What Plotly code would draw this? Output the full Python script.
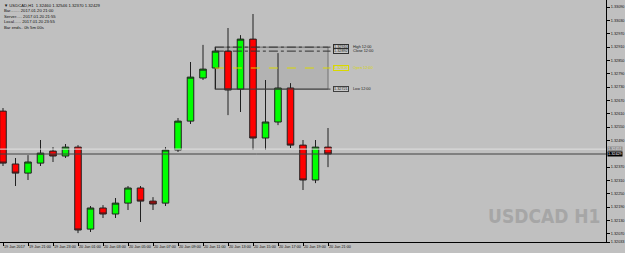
import pandas as pd
import plotly.graph_objects as go

symbol = "USDCAD"
timeframe = "H1"
bar_times = pd.date_range("2017-01-19 19:00", periods=27, freq="h")

opens = [1.32622, 1.32384, 1.32343, 1.32388, 1.32442, 1.32420, 1.32460, 1.32091, 1.32186,
         1.32159, 1.32208, 1.32276, 1.32217, 1.32208, 1.32447, 1.32577, 1.32771, 1.32816,
         1.32892, 1.32721, 1.32946, 1.32501, 1.32573, 1.32726, 1.32469, 1.32312, 1.32460]
highs = [1.32636, 1.32411, 1.32424, 1.32492, 1.32460, 1.32474, 1.32469, 1.32195, 1.32199,
         1.32231, 1.32285, 1.32285, 1.32235, 1.32460, 1.32591, 1.32843, 1.32920, 1.32910,
         1.32996, 1.32964, 1.33059, 1.32762, 1.32883, 1.32748, 1.32492, 1.32492, 1.32546]
lows = [1.32375, 1.32285, 1.32312, 1.32375, 1.32393, 1.32411, 1.32073, 1.32078, 1.32141,
        1.32141, 1.32177, 1.32123, 1.32177, 1.32195, 1.32438, 1.32564, 1.32762, 1.32721,
        1.32604, 1.32618, 1.32447, 1.32447, 1.32559, 1.32456, 1.32267, 1.32298, 1.32370]
closes = [1.32388, 1.32343, 1.32393, 1.32433, 1.32420, 1.32460, 1.32087, 1.32186, 1.32159,
          1.32208, 1.32276, 1.32217, 1.32204, 1.32447, 1.32577, 1.32775, 1.32811, 1.32892,
          1.32717, 1.32946, 1.32501, 1.32573, 1.32726, 1.32469, 1.32312, 1.32460, 1.32429]
ask_price = 1.32451
box_bar = 17

y_ticks = [1.33090, 1.33030, 1.32970, 1.32910, 1.32850, 1.32790, 1.32730, 1.32670, 1.32610,
           1.32550, 1.32490, 1.32370, 1.32310, 1.32250, 1.32190, 1.32130, 1.32070,
           1.32033]
y_range = [1.32033, 1.33122]
x_range = [-0.24, 48.24]

x = list(range(len(opens)))
x_tick_idx = list(range(0, len(opens), 2))
x_tick_txt = [bar_times[i].strftime("%d %b %Y") if i == 0 else bar_times[i].strftime("%d %b %H:%M")
              for i in x_tick_idx]

BG = "#C0C0C0"
FONT = "Liberation Sans, Arial, sans-serif"
fs = 3.8

fig = go.Figure()
fig.add_trace(go.Candlestick(
    x=x, open=opens, high=highs, low=lows, close=closes,
    increasing=dict(fillcolor="#00FF00", line=dict(color="#202020", width=1)),
    decreasing=dict(fillcolor="#FF0000", line=dict(color="#202020", width=1)),
    whiskerwidth=0, hoverinfo="skip", showlegend=False))

last = len(opens) - 1
bx0 = box_bar - 0.05
bx1 = last
lx1 = last + 0.2
fig.add_shape(type="rect", x0=bx0, x1=bx1, y0=lows[box_bar], y1=highs[box_bar],
              fillcolor="#B3B3B3", line=dict(color="#707070", width=1), layer="below")
levels = [("High", highs[box_bar], "#303030", "dashdot"),
          ("Close", closes[box_bar], "#303030", "dashdot"),
          ("Open", opens[box_bar], "#D8D800", "dash"),
          ("Low", lows[box_bar], "#404040", "solid")]
bar_label = bar_times[box_bar].strftime("%H:%M")
for name, val, col, dash in levels:
    tcol = "#D8D800" if name == "Open" else "#202020"
    fig.add_shape(type="line", x0=bx0, x1=lx1, y0=val, y1=val,
                  line=dict(color=col, width=1, dash=dash), layer="above")
    fig.add_annotation(x=lx1 + 0.2, y=val, xref="x", yref="y", xanchor="left", yanchor="middle",
                       text=f"{val:.5f}", showarrow=False,
                       font=dict(size=fs, color=tcol, family=FONT),
                       bgcolor="#C8C8C8", bordercolor=col, borderwidth=1, borderpad=0)
    fig.add_annotation(x=lx1 + 1.65, y=val, xref="x", yref="y", xanchor="left", yanchor="middle",
                       text=f"{name} {bar_label}", showarrow=False,
                       font=dict(size=fs, color=tcol, family=FONT))

fig.add_shape(type="line", xref="paper", x0=0, x1=1, y0=ask_price, y1=ask_price,
              line=dict(color="#E0E0E0", width=1), layer="above")
fig.add_shape(type="line", xref="paper", x0=0, x1=1, y0=closes[-1], y1=closes[-1],
              line=dict(color="#404040", width=1), layer="above")
fig.add_annotation(x=1, y=ask_price, xref="paper", yref="y", xanchor="left", yanchor="middle",
                   text=f"{ask_price:.5f}", showarrow=False, xshift=1,
                   font=dict(size=fs, color="#E8E8E8", family=FONT),
                   bgcolor="#8A8A8A", borderpad=0)
fig.add_annotation(x=1, y=closes[-1], xref="paper", yref="y", xanchor="left", yanchor="middle",
                   text=f"{closes[-1]:.5f}", showarrow=False, xshift=1,
                   font=dict(size=fs, color="#FFFFFF", family=FONT),
                   bgcolor="#000000", borderpad=0)

info = (f"\u25BC {symbol},{timeframe}  {opens[-1]:.5f} {highs[-1]:.5f} {lows[-1]:.5f} {closes[-1]:.5f}<br>"
        f"Bar........ {bar_times[-1].strftime('%Y.%m.%d %H:%M')}<br>"
        f"Server..... {bar_times[-1].strftime('%Y.%m.%d')} 21:55<br>"
        f"Local...... {bar_times[-1].strftime('%Y.%m.%d')} 23:55<br>"
        f"Bar ends.. 0h 5m 00s")
fig.add_annotation(x=0, y=1, xref="paper", yref="paper", xanchor="left", yanchor="top",
                   text=info, showarrow=False, align="left", xshift=2, yshift=-1,
                   font=dict(size=fs + 0.4, color="#101010", family=FONT))

fig.add_annotation(x=0.995, y=0.066, xref="paper", yref="paper", xanchor="right", yanchor="bottom",
                   text=f"{symbol} {timeframe}", showarrow=False, yshift=-3,
                   font=dict(size=19, color="#A6A6A6", weight="bold",
                             family="Liberation Sans Narrow, DejaVu Sans Condensed, Liberation Sans"))

fig.update_layout(
    width=625, height=253,
    margin=dict(l=0, r=19, t=0, b=11),
    paper_bgcolor=BG, plot_bgcolor=BG,
    boxgap=0.25,
    showlegend=False,
    xaxis=dict(range=x_range, rangeslider=dict(visible=False), showgrid=False, zeroline=False,
               tickmode="array", tickvals=x_tick_idx, ticktext=x_tick_txt, tickangle=0,
               ticks="outside", ticklen=3, tickcolor="#000000", ticklabelposition="outside right",
               tickfont=dict(size=fs, color="#101010", family=FONT),
               showline=True, linecolor="#000000", linewidth=1),
    yaxis=dict(range=y_range, side="right", showgrid=False, zeroline=False,
               tickmode="array", tickvals=y_ticks, ticktext=[f"{v:.5f}" for v in y_ticks],
               ticks="outside", ticklen=3, tickcolor="#000000",
               tickfont=dict(size=fs, color="#101010", family=FONT),
               showline=True, linecolor="#000000", linewidth=1),
)

fig.write_html("out.html")
